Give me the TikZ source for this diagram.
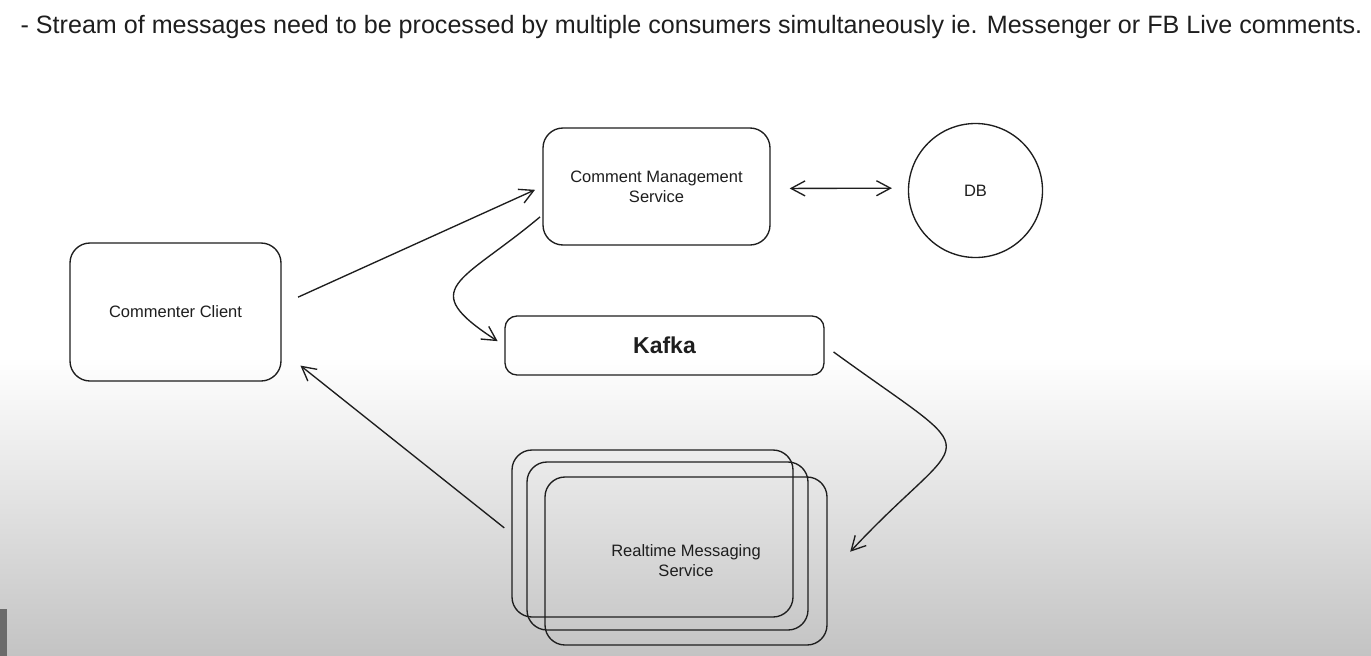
\documentclass[tikz,border=0pt]{standalone}
\usepackage{fontspec}
\setmainfont{Liberation Sans}
\usetikzlibrary{arrows.meta}

\definecolor{ink}{HTML}{1E1E1E}
\definecolor{bgbot}{HTML}{C3C3C3}
\definecolor{tabgray}{HTML}{6B6B6B}

\tikzstyle{box}=[draw,rounded corners=20pt,align=center,inner sep=0pt,font=\fontsize{16.5}{20}\selectfont]
\tikzstyle{store}=[draw,circle,inner sep=0pt,minimum size=134pt,font=\fontsize{16.5}{20}\selectfont]

\begin{document}
\begin{tikzpicture}[x=1pt,y=1pt,color=ink,line width=1.35pt,>={Straight Barb[length=14pt,width=15pt]}]
  \useasboundingbox (0,0) rectangle (1371,-656);
  \fill[white] (0,0) rectangle (1371,-357);
  \shade[top color=white,bottom color=bgbot] (0,-357) rectangle (1371,-656);
  \fill[tabgray] (0,-656) rectangle (7,-609);

  \node[anchor=west,inner sep=0pt,font=\fontsize{25.1}{30}\selectfont] (title) at (20,-27) {- Stream of messages need to be processed by multiple consumers simultaneously ie. Messenger or FB Live comments.};

  \node[box,minimum width=211pt,minimum height=138pt] (client) at (175.5,-312) {Commenter Client};
  \node[box,minimum width=227pt,minimum height=117pt] (cms) at (656.5,-186.5) {Comment Management\\Service};
  \node[store] (db) at (975.5,-190.5) {DB};
  \node[box,rounded corners=12pt,minimum width=319pt,minimum height=59pt,font=\fontsize{23}{26}\selectfont\bfseries] (kafka) at (664.5,-345.5) {Kafka};

  % stacked consumers
  \node[box,minimum width=281pt,minimum height=167pt] (rms1) at (652.5,-533.5) {};
  \node[box,minimum width=281pt,minimum height=168pt] (rms2) at (667.5,-546) {};
  \node[box,minimum width=282pt,minimum height=168pt] (rms3) at (686,-561) {Realtime Messaging\\Service};

  \path (client.4) edge [->,shorten <=18pt,shorten >=8pt] (cms.west);
  \path (cms.-1) edge [<->,shorten <=19pt,shorten >=16pt] (db.178);
  \path (cms.194) edge [->,out=220,in=147,looseness=2,shorten <=3pt,shorten >=8pt] (kafka.west);
  \path (kafka.east) edge [->,out=-36,in=47,looseness=2.3,shorten <=11pt,shorten >=33pt] (rms3.-6);
  \path (rms1.west) edge [->,shorten <=9pt,shorten >=24pt] (client.-20);
\end{tikzpicture}
\end{document}
